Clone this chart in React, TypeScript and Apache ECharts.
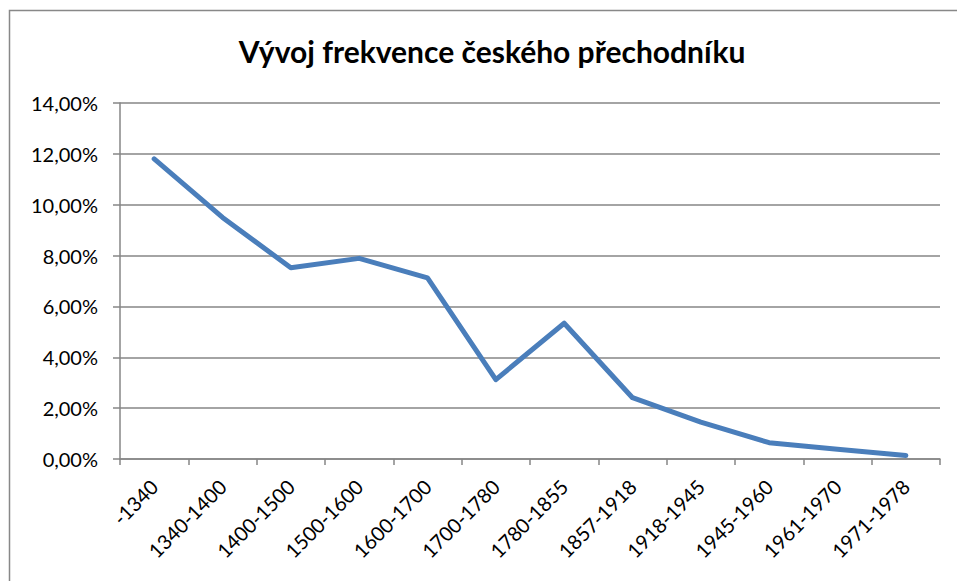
import React, { useEffect, useRef } from "react";
import * as echarts from "echarts";

const categories = [
  "-1340",
  "1340-1400",
  "1400-1500",
  "1500-1600",
  "1600-1700",
  "1700-1780",
  "1780-1855",
  "1857-1918",
  "1918-1945",
  "1945-1960",
  "1961-1970",
  "1971-1978",
];

const frequency = [11.8, 9.5, 7.52, 7.89, 7.12, 3.12, 5.34, 2.41, 1.45, 0.64, 0.38, 0.14];

const yTicks = { min: 0, max: 14, interval: 2 };

const titleText = "Vývoj frekvence českého přechodníku";

export default function App() {
  const ref = useRef<HTMLDivElement>(null);
  useEffect(() => {
    if (!ref.current) return;
    const chart = echarts.init(ref.current, null, { renderer: "svg" });
    const font = "Lato, 'Open Sans', sans-serif";
    chart.setOption({
      animation: false,
      backgroundColor: "#ffffff",
      title: {
        text: titleText,
        left: "487",
        textAlign: "center",
        top: 31,
        textStyle: { fontFamily: font, fontWeight: "bold", fontSize: 30, color: "#000" },
      },
      graphic: [
        {
          type: "rect",
          shape: { x: 9.5, y: 10.5, width: 1200, height: 1200 },
          style: { fill: "none", stroke: "#888888", lineWidth: 1.5 },
          silent: true,
        },
      ],
      grid: { left: 120, right: 17, top: 103, bottom: 122, containLabel: false },
      xAxis: {
        type: "category",
        data: categories,
        boundaryGap: true,
        axisLine: { show: true, lineStyle: { color: "#868686", width: 1.5 } },
        axisTick: { show: true, length: 6, alignWithLabel: false, lineStyle: { color: "#868686", width: 1.5 } },
        axisLabel: {
          rotate: 45,
          interval: 0,
          margin: 24,
          fontFamily: font,
          fontSize: 20,
          color: "#000",
        },
        splitLine: { show: false },
      },
      yAxis: {
        type: "value",
        min: yTicks.min,
        max: yTicks.max,
        interval: yTicks.interval,
        axisLine: { show: true, lineStyle: { color: "#868686", width: 1.5 } },
        axisTick: { show: true, length: 7, lineStyle: { color: "#868686", width: 1.5 } },
        axisLabel: {
          margin: 22,
          fontFamily: font,
          fontSize: 20,
          color: "#000",
          formatter: (v: number) => v.toFixed(2).replace(".", ",") + "%",
        },
        splitLine: { show: true, lineStyle: { color: "#868686", width: 1.5 } },
      },
      series: [
        {
          type: "line",
          data: frequency,
          symbol: "none",
          lineStyle: { color: "#4a7ebb", width: 5, join: "round", cap: "round" },
        },
      ],
    });
    return () => chart.dispose();
  }, []);
  return (
    <div
      ref={ref}
      style={{ position: "fixed", left: 0, top: 0, width: 957, height: 581 }}
    />
  );
}
